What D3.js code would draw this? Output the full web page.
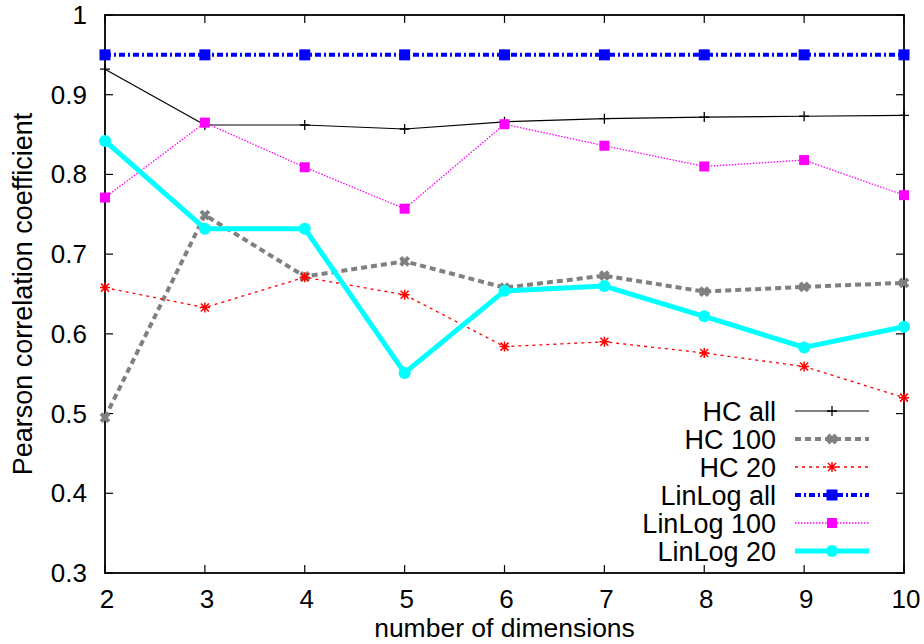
<!DOCTYPE html>
<html><head><meta charset="utf-8">
<script src="https://cdn.jsdelivr.net/npm/d3@7"></script>
<style>body{margin:0;background:#fff}svg{display:block}text{font-family:"Liberation Sans",Arial,sans-serif;fill:#000}</style>
</head><body><svg id="c" width="924" height="644"></svg>
<script>
const dims = [2,3,4,5,6,7,8,9,10];
const hcAll      = [0.932,0.862,0.862,0.857,0.866,0.870,0.872,0.873,0.874];
const hc100      = [0.495,0.749,0.672,0.691,0.658,0.673,0.653,0.659,0.664];
const hc20       = [0.658,0.633,0.671,0.649,0.584,0.590,0.576,0.559,0.520];
const linlogAll  = [0.950,0.950,0.950,0.950,0.950,0.950,0.950,0.950,0.950];
const linlog100  = [0.771,0.865,0.809,0.757,0.863,0.836,0.810,0.818,0.774];
const linlog20   = [0.842,0.732,0.732,0.551,0.654,0.660,0.622,0.583,0.609];
const yTicks = [0.3,0.4,0.5,0.6,0.7,0.8,0.9,1];
const yTickLabels = ["0.3","0.4","0.5","0.6","0.7","0.8","0.9","1"];
const xTicks = [2,3,4,5,6,7,8,9,10];
const seriesNames = ["HC all","HC 100","HC 20","LinLog all","LinLog 100","LinLog 20"];

const svg = d3.select("#c");
const L=105,R=904,T=15,B=573;
const x = d3.scaleLinear().domain([2,10]).range([L,R]);
const y = d3.scaleLinear().domain([0.3,1]).range([B,T]);

const styles = [
  {color:"#000000", width:1.2, dash:null, marker:"plus"},
  {color:"#808080", width:4, dash:"6,4", marker:"xthick"},
  {color:"#ff0000", width:1.3, dash:"3,4", marker:"star"},
  {color:"#0000ff", width:4, dash:"6,3,2,3", marker:"square", msize:11},
  {color:"#ff00ff", width:1.3, dash:"1.5,1.5", marker:"square", msize:10},
  {color:"#00ffff", width:5, dash:null, marker:"circle"}
];
const data = [hcAll,hc100,hc20,linlogAll,linlog100,linlog20];

const g = svg.append("g");
const tickLen = 8;
xTicks.forEach(t=>{
  g.append("line").attr("x1",x(t)).attr("x2",x(t)).attr("y1",B).attr("y2",B-tickLen).attr("stroke","#000").attr("stroke-width",1.2);
  g.append("line").attr("x1",x(t)).attr("x2",x(t)).attr("y1",T).attr("y2",T+tickLen).attr("stroke","#000").attr("stroke-width",1.2);
  g.append("text").attr("x",x(t)+2).attr("y",608).attr("text-anchor","middle").attr("font-size",26).text(t);
});
yTicks.forEach((t,i)=>{
  g.append("line").attr("x1",L).attr("x2",L+tickLen).attr("y1",y(t)).attr("y2",y(t)).attr("stroke","#000").attr("stroke-width",1.2);
  g.append("line").attr("x1",R).attr("x2",R-tickLen).attr("y1",y(t)).attr("y2",y(t)).attr("stroke","#000").attr("stroke-width",1.2);
  g.append("text").attr("x",87).attr("y",y(t)+9).attr("text-anchor","end").attr("font-size",26).text(yTickLabels[i]);
});
g.append("rect").attr("x",L).attr("y",T).attr("width",R-L).attr("height",B-T).attr("fill","none").attr("stroke","#000").attr("stroke-width",1.8);

g.append("text").attr("x",(L+R)/2).attr("y",637).attr("text-anchor","middle").attr("font-size",26.5).text("number of dimensions");
g.append("text").attr("transform",`translate(32,${(T+B)/2}) rotate(-90)`).attr("text-anchor","middle").attr("font-size",27).text("Pearson correlation coefficient");

function marker(sel, type, cx, cy, st){
  const c = st.color;
  if(type==="plus"){
    sel.append("path").attr("d",`M${cx-5},${cy}H${cx+5}M${cx},${cy-5}V${cy+5}`).attr("stroke",c).attr("stroke-width",1.3);
  } else if(type==="xthick"){
    sel.append("path").attr("d",`M${cx-4},${cy-4}L${cx+4},${cy+4}M${cx-4},${cy+4}L${cx+4},${cy-4}`).attr("stroke",c).attr("stroke-width",4);
  } else if(type==="star"){
    sel.append("path").attr("d",`M${cx-5},${cy}H${cx+5}M${cx},${cy-5}V${cy+5}M${cx-4},${cy-4}L${cx+4},${cy+4}M${cx-4},${cy+4}L${cx+4},${cy-4}`).attr("stroke",c).attr("stroke-width",1.5);
  } else if(type==="square"){
    const s = st.msize;
    sel.append("rect").attr("x",cx-s/2).attr("y",cy-s/2).attr("width",s).attr("height",s).attr("fill",c);
  } else if(type==="circle"){
    sel.append("circle").attr("cx",cx).attr("cy",cy).attr("r",6).attr("fill",c);
  }
}

const line = d3.line().x((d,i)=>x(dims[i])).y(d=>y(d));
data.forEach((vals,si)=>{
  const st = styles[si];
  const sg = svg.append("g");
  sg.append("path").datum(vals).attr("d",line).attr("fill","none").attr("stroke",st.color).attr("stroke-width",st.width)
    .attr("stroke-dasharray",st.dash).attr("stroke-linejoin","round");
  vals.forEach((v,i)=>marker(sg, st.marker, x(dims[i]), y(v), st));
});

const legY0 = 411, legDy = 28;
seriesNames.forEach((n,i)=>{
  const st = styles[i];
  const ly = legY0 + i*legDy;
  const lg = svg.append("g");
  lg.append("text").attr("x",776).attr("y",ly+10).attr("text-anchor","end").attr("font-size",27).text(n);
  lg.append("line").attr("x1",795).attr("x2",869).attr("y1",ly).attr("y2",ly).attr("stroke",st.color).attr("stroke-width",st.width).attr("stroke-dasharray",st.dash);
  marker(lg, st.marker, 832, ly, st);
});
</script></body></html>
